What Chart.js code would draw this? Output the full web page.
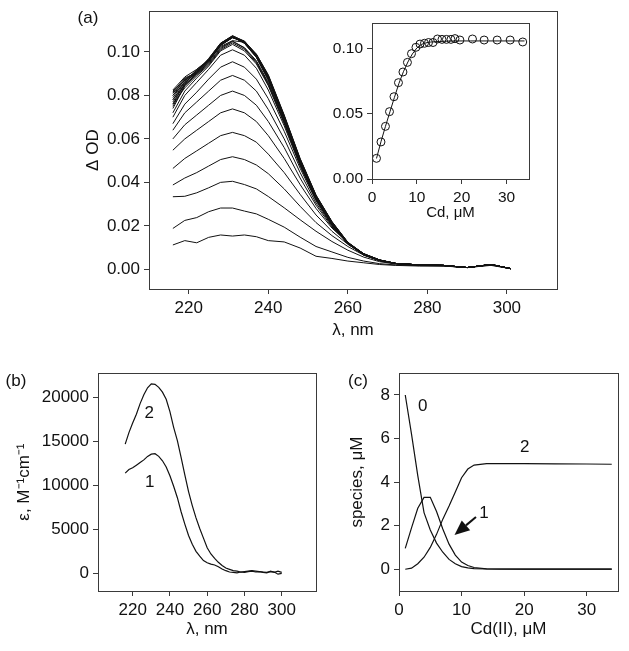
<!DOCTYPE html>
<html>
<head>
<meta charset="utf-8">
<script src="https://cdn.jsdelivr.net/npm/chart.js@4.4.1/dist/chart.umd.min.js"></script>
<style>
  body { margin: 0; background: #fff; width: 629px; height: 651px; position: relative; overflow: hidden; }
  canvas { position: absolute; }
</style>
</head>
<body>
<canvas id="mainChart"></canvas>
<canvas id="insetChart"></canvas>
<canvas id="epsChart"></canvas>
<canvas id="speciesChart"></canvas>
<script>
// (a) difference spectra, one per Cd addition
const wavelengths = [216, 219, 222, 225, 228, 231, 234, 237, 240, 244, 248, 252, 256, 260, 264, 268, 272, 278, 284, 290, 296, 301];
const spec01 = [.0112,.0132,.0122,.0147,.0158,.0153,.0158,.0150,.0132,.0126,.0098,.0060,.0050,.0038,.0030,.0022,.0018,.0015,.0015,.0008,.0018,.0003];
const spec02 = [.0188,.0225,.0238,.0265,.0282,.0282,.0268,.0255,.0230,.0194,.0148,.0105,.0080,.0055,.0038,.0026,.0020,.0017,.0016,.0008,.0020,.0003];
const spec03 = [.0334,.0336,.0352,.0375,.0400,.0405,.0390,.0370,.0335,.0283,.0228,.0175,.0128,.0088,.0056,.0035,.0024,.0018,.0016,.0008,.0021,.0003];
const spec04 = [.0388,.0420,.0445,.0475,.0505,.0518,.0505,.0480,.0440,.0370,.0290,.0215,.0155,.0105,.0065,.0040,.0026,.0019,.0017,.0008,.0021,.0003];
const spec05 = [.0464,.0510,.0545,.0580,.0615,.0630,.0615,.0585,.0530,.0445,.0345,.0250,.0175,.0115,.0070,.0042,.0027,.0020,.0017,.0008,.0022,.0003];
const spec06 = [.0548,.0600,.0640,.0680,.0720,.0738,.0720,.0680,.0615,.0510,.0390,.0280,.0190,.0122,.0072,.0043,.0027,.0020,.0017,.0008,.0022,.0003];
const spec07 = [.0600,.0665,.0710,.0755,.0800,.0820,.0800,.0755,.0680,.0560,.0420,.0295,.0195,.0120,.0072,.0043,.0027,.0020,.0018,.0008,.0022,.0003];
const spec08 = [.0640,.0720,.0770,.0820,.0870,.0892,.0870,.0820,.0735,.0600,.0445,.0305,.0200,.0120,.0070,.0042,.0027,.0020,.0018,.0008,.0022,.0003];
const spec09 = [.0670,.0760,.0815,.0875,.0930,.0955,.0930,.0875,.0785,.0635,.0465,.0315,.0203,.0120,.0068,.0041,.0027,.0020,.0018,.0008,.0022,.0003];
const spec10 = [.0700,.0800,.0860,.0920,.0985,.1010,.0985,.0925,.0825,.0660,.0475,.0320,.0205,.0118,.0067,.0040,.0027,.0020,.0018,.0008,.0022,.0003];
const spec11 = [.0720,.0820,.0880,.0935,.1005,.1035,.1005,.0945,.0845,.0670,.0480,.0322,.0205,.0117,.0066,.0040,.0027,.0020,.0018,.0008,.0022,.0003];
const spec12 = [.0760,.0835,.0890,.0940,.1010,.1042,.1012,.0950,.0850,.0675,.0482,.0323,.0206,.0117,.0066,.0040,.0027,.0020,.0018,.0008,.0022,.0003];
const spec13 = [.0740,.0845,.0895,.0945,.1015,.1048,.1018,.0955,.0855,.0678,.0484,.0324,.0207,.0118,.0066,.0040,.0027,.0020,.0018,.0008,.0022,.0003];
const spec14 = [.0780,.0850,.0900,.0950,.1020,.1050,.1020,.0960,.0860,.0680,.0486,.0326,.0208,.0118,.0067,.0040,.0027,.0020,.0018,.0008,.0022,.0003];
const spec15 = [.0800,.0860,.0905,.0960,.1040,.1072,.1040,.0975,.0870,.0688,.0490,.0328,.0210,.0119,.0067,.0041,.0027,.0020,.0018,.0008,.0022,.0003];
const spec16 = [.0760,.0855,.0910,.0965,.1035,.1070,.1040,.0975,.0872,.0690,.0492,.0330,.0211,.0120,.0068,.0041,.0027,.0020,.0018,.0008,.0022,.0003];
const spec17 = [.0820,.0870,.0900,.0955,.1035,.1068,.1042,.0978,.0875,.0692,.0494,.0332,.0212,.0120,.0068,.0041,.0027,.0020,.0018,.0008,.0022,.0003];
const spec18 = [.0790,.0865,.0915,.0960,.1030,.1070,.1045,.0980,.0878,.0695,.0496,.0333,.0213,.0121,.0069,.0041,.0027,.0020,.0018,.0008,.0022,.0003];
const spec19 = [.0815,.0880,.0905,.0970,.1040,.1075,.1048,.0982,.0880,.0697,.0498,.0334,.0214,.0121,.0069,.0042,.0027,.0020,.0018,.0008,.0022,.0003];
const spec20 = [.0770,.0850,.0920,.0960,.1030,.1066,.1045,.0982,.0882,.0699,.0500,.0336,.0215,.0122,.0069,.0042,.0027,.0020,.0018,.0008,.0022,.0003];
const spec21 = [.0800,.0875,.0910,.0968,.1040,.1074,.1050,.0985,.0885,.0701,.0502,.0337,.0216,.0122,.0070,.0042,.0027,.0020,.0018,.0008,.0022,.0003];
const spec22 = [.0825,.0885,.0920,.0965,.1035,.1066,.1048,.0985,.0888,.0703,.0504,.0338,.0217,.0123,.0070,.0042,.0027,.0020,.0018,.0008,.0022,.0003];
const spec23 = [.0780,.0860,.0905,.0960,.1032,.1066,.1048,.0988,.0890,.0705,.0506,.0339,.0218,.0123,.0070,.0042,.0027,.0020,.0018,.0008,.0022,.0003];
const spec24 = [.0750,.0845,.0900,.0955,.1030,.1066,.1050,.0990,.0892,.0707,.0508,.0340,.0219,.0124,.0071,.0043,.0027,.0020,.0018,.0008,.0022,.0003];
const spec25 = [.0810,.0870,.0915,.0960,.1025,.1052,.1045,.0990,.0895,.0710,.0510,.0342,.0220,.0125,.0071,.0043,.0027,.0020,.0018,.0008,.0022,.0003];
const spectra = [spec01, spec02, spec03, spec04, spec05, spec06, spec07, spec08, spec09, spec10, spec11, spec12, spec13,
                 spec14, spec15, spec16, spec17, spec18, spec19, spec20, spec21, spec22, spec23, spec24, spec25];

// inset: titration at the maximum
const titrCd = [1.0, 2.0, 3.0, 3.9, 4.9, 5.9, 6.9, 7.9, 8.8, 9.8, 10.7, 11.7, 12.6, 13.6, 14.6, 15.6, 16.6, 17.6, 18.5, 19.6, 22.4, 25.0, 27.9, 30.8, 33.6];
const titrOD = [.0159, .0285, .0405, .0518, .0633, .0741, .0823, .0897, .0964, .1013, .1038, .1044, .1050, .1050, .1077, .1074, .1074, .1074, .1080, .1069, .1077, .1069, .1069, .1069, .1054];
const fitCd = [1, 2, 3, 4, 5, 6, 7, 8, 9, 10, 11, 12, 13, 15, 18, 22, 26, 30, 34];
const fitOD = [.0158, .0287, .0405, .0517, .0628, .0735, .0825, .0900, .0962, .1008, .1035, .1047, .1053, .1058, .1062, .1062, .1062, .1062, .1062];

// (b) molar absorptivity of the two species
const epsWl = [216, 218, 220, 222, 224, 226, 228, 230, 232, 234, 236, 238, 240, 242, 244, 246, 248, 250, 252, 254, 256, 258,
               260, 262, 264, 266, 268, 270, 272, 274, 276, 278, 280, 282, 284, 286, 288, 290, 292, 294, 296, 298, 300];
const eps1 = [11400, 11800, 12000, 12300, 12600, 12900, 13300, 13550, 13600, 13300, 12800, 12100, 11100, 9900, 8600, 7000, 5600, 4300, 3300, 2500, 1950, 1450,
              1200, 1050, 950, 750, 500, 300, 150, 100, 50, 150, 100, 200, 250, 150, 200, 100, 50, 250, 100, 250, 100];
const eps2 = [14700, 16000, 17100, 18100, 19300, 20300, 21100, 21550, 21500, 21150, 20600, 19800, 18400, 16600, 15100, 13200, 11200, 9300, 7700, 6300, 5100, 4000,
              2900, 2200, 1700, 1250, 900, 600, 450, 300, 250, 150, 200, 250, 300, 250, 200, 150, 100, 200, 150, -100, 0];

// (c) species distribution
const cdTotal = [1, 2, 3, 4, 5, 6, 7, 8, 9, 10, 11, 12, 14, 16, 20, 25, 30, 34];
const species0 = [8.0, 6.2, 4.3, 2.6, 1.8, 1.2, 0.78, 0.45, 0.25, 0.12, 0.06, 0.03, 0.01, 0, 0, 0, 0, 0];
const species1 = [0.96, 1.9, 2.8, 3.3, 3.3, 2.65, 1.85, 1.15, 0.65, 0.33, 0.17, 0.08, 0.02, 0.01, 0, 0, 0, 0];
const species2 = [0.0, 0.05, 0.25, 0.55, 1.0, 1.6, 2.3, 2.9, 3.55, 4.2, 4.6, 4.78, 4.85, 4.85, 4.85, 4.84, 4.83, 4.82];

const FONT = '"Liberation Sans", Arial, sans-serif';
const INK = '#111';
const FRAME = '#3a3a3a';

const pts = (xs, ys) => ys.map((v, i) => ({ x: xs[i], y: v }));

function place(id, box, yw, xh) {
  const pad = { left: 25, top: 14, right: 6, bottom: 4 };
  const left = box.l - yw - pad.left;
  const top = box.t - pad.top;
  const cv = document.getElementById(id);
  cv.width = box.r - left + pad.right;
  cv.height = box.b + xh + pad.bottom - top;
  cv.style.left = left + 'px';
  cv.style.top = top + 'px';
  return { cv, pad, origin: [left, top] };
}

function axis(min, max, ticks, fmt, size, title, fixed, horizontal) {
  return {
    type: 'linear', min, max,
    afterBuildTicks: s => { s.ticks = ticks.map(v => ({ value: v })); },
    afterFit: s => { if (horizontal) s.height = fixed; else s.width = fixed; },
    ticks: { callback: fmt, color: INK, font: { family: FONT, size }, padding: 4, autoSkip: false, maxRotation: 0 },
    grid: { drawOnChartArea: false, drawTicks: true, tickLength: 5, color: FRAME },
    border: { color: FRAME, width: 1 },
    title: title ? { display: true, text: title, color: INK, font: { family: FONT, size: 17 }, padding: 0 } : { display: false }
  };
}

const framePlugin = {
  id: 'frame',
  afterDraw(chart) {
    const { ctx, chartArea: a } = chart;
    ctx.save();
    ctx.strokeStyle = FRAME;
    ctx.lineWidth = 1;
    ctx.strokeRect(Math.round(a.left) + 0.5, Math.round(a.top) + 0.5,
                   Math.round(a.right) - Math.round(a.left), Math.round(a.bottom) - Math.round(a.top));
    ctx.restore();
  }
};

const notesPlugin = {
  id: 'notes',
  afterDraw(chart, args, opts) {
    const { ctx, scales } = chart;
    ctx.save();
    ctx.fillStyle = INK;
    ctx.strokeStyle = INK;
    ctx.textAlign = 'center';
    ctx.textBaseline = 'middle';
    ctx.font = '17px ' + FONT;
    (opts.tags || []).forEach(t => {
      ctx.fillText(t.text, scales.x.getPixelForValue(t.x), scales.y.getPixelForValue(t.y));
    });
    if (opts.panel) ctx.fillText(opts.panel.text, opts.panel.px - opts.origin[0], opts.panel.py - opts.origin[1]);
    (opts.arrows || []).forEach(a => {
      const x0 = scales.x.getPixelForValue(a.x0), y0 = scales.y.getPixelForValue(a.y0);
      const x1 = scales.x.getPixelForValue(a.x1), y1 = scales.y.getPixelForValue(a.y1);
      const ang = Math.atan2(y1 - y0, x1 - x0);
      const hl = 15, hw = 6.5;
      const bx = x1 - hl * Math.cos(ang), by = y1 - hl * Math.sin(ang);
      ctx.lineWidth = 2;
      ctx.beginPath(); ctx.moveTo(x0, y0); ctx.lineTo(bx, by); ctx.stroke();
      ctx.beginPath();
      ctx.moveTo(x1, y1);
      ctx.lineTo(bx + hw * Math.sin(ang), by - hw * Math.cos(ang));
      ctx.lineTo(bx - hw * Math.sin(ang), by + hw * Math.cos(ang));
      ctx.closePath(); ctx.fill();
    });
    ctx.restore();
  }
};

function baseOptions(pad, scales, notes) {
  return {
    responsive: false, animation: false, devicePixelRatio: 1, events: [],
    layout: { padding: pad },
    plugins: { legend: { display: false }, tooltip: { enabled: false }, notes },
    elements: { point: { radius: 0 }, line: { tension: 0 } },
    scales
  };
}

const fix2 = v => v.toFixed(2);
const plain = v => String(v);

// (a) main spectra
const pa = place('mainChart', { l: 149, t: 11, r: 557, b: 289 }, 66, 52);
new Chart(pa.cv, {
  type: 'line',
  data: { datasets: spectra.map(s => ({ data: pts(wavelengths, s), borderColor: INK, borderWidth: 1, pointRadius: 0 })) },
  options: baseOptions(pa.pad, {
    x: axis(210, 312.6, [220, 240, 260, 280, 300], plain, 17, 'λ, nm', 52, true),
    y: axis(-0.00906, 0.11876, [0, 0.02, 0.04, 0.06, 0.08, 0.10], fix2, 17, 'Δ OD', 66, false)
  }, { origin: pa.origin, panel: { text: '(a)', px: 88, py: 18 } }),
  plugins: [framePlugin, notesPlugin]
});

// inset titration
const pi = place('insetChart', { l: 372, t: 23, r: 529, b: 179 }, 45, 43);
new Chart(pi.cv, {
  type: 'line',
  data: { datasets: [
    { data: pts(fitCd, fitOD), borderColor: INK, borderWidth: 1, pointRadius: 0 },
    { data: pts(titrCd, titrOD), showLine: false, pointRadius: 4, pointBorderWidth: 1,
      pointBorderColor: INK, pointBackgroundColor: 'rgba(0,0,0,0)' }
  ] },
  options: (() => {
    const o = baseOptions(pi.pad, {
      x: axis(0, 35, [0, 10, 20, 30], plain, 15.5, 'Cd, μM', 43, true),
      y: axis(0, 0.12, [0, 0.05, 0.10], fix2, 15.5, null, 45, false)
    }, {});
    o.scales.x.title.font.size = 15;
    return o;
  })(),
  plugins: [framePlugin]
});

// (b) absorptivity
const pb = place('epsChart', { l: 98, t: 373, r: 316, b: 591 }, 84, 49);
new Chart(pb.cv, {
  type: 'line',
  data: { datasets: [
    { data: pts(epsWl, eps1), borderColor: INK, borderWidth: 1.2, pointRadius: 0 },
    { data: pts(epsWl, eps2), borderColor: INK, borderWidth: 1.2, pointRadius: 0 }
  ] },
  options: baseOptions(pb.pad, {
    x: axis(201.4, 318.4, [220, 240, 260, 280, 300], plain, 17, 'λ, nm', 49, true),
    y: axis(-2011, 22761, [0, 5000, 10000, 15000, 20000], plain, 17, 'ε, M⁻¹cm⁻¹', 84, false)
  }, {
    origin: pb.origin, panel: { text: '(b)', px: 16, py: 381 },
    tags: [{ text: '2', x: 228.9, y: 18180 }, { text: '1', x: 229.2, y: 10400 }]
  }),
  plugins: [framePlugin, notesPlugin]
});

// (c) species
const pc = place('speciesChart', { l: 399, t: 373, r: 618, b: 591 }, 52, 49);
new Chart(pc.cv, {
  type: 'line',
  data: { datasets: [species0, species1, species2].map(s => ({
    data: pts(cdTotal, s), borderColor: INK, borderWidth: 1.2, pointRadius: 0 })) },
  options: baseOptions(pc.pad, {
    x: axis(0, 35, [0, 10, 20, 30], plain, 17, 'Cd(II), μM', 49, true),
    y: axis(-1, 9, [0, 2, 4, 6, 8], plain, 17, 'species, μM', 52, false)
  }, {
    origin: pc.origin, panel: { text: '(c)', px: 358, py: 381 },
    tags: [{ text: '0', x: 3.8, y: 7.5 }, { text: '2', x: 20.1, y: 5.6 }, { text: '1', x: 13.6, y: 2.56 }],
    arrows: [{ x0: 12.3, y0: 2.4, x1: 8.87, y1: 1.57 }]
  }),
  plugins: [framePlugin, notesPlugin]
});
</script>
</body>
</html>
